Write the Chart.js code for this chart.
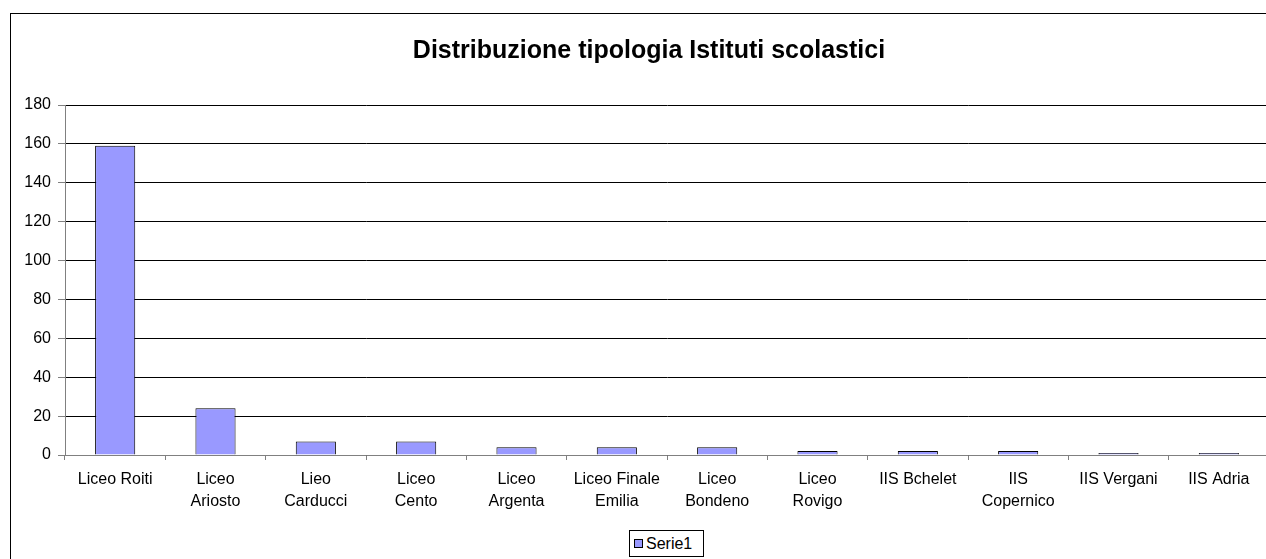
<!DOCTYPE html>
<html>
<head>
<meta charset="utf-8">
<script src="https://cdn.jsdelivr.net/npm/chart.js@4"></script>
<style>
  body { margin: 0; background: #fff; overflow: hidden; font-family: "Liberation Sans", Arial, sans-serif; }
  #wrap { position: absolute; left: 10px; top: 13px; width: 1276px; height: 580px; border: 1px solid #000; }
  #title { position: absolute; left: 349px; top: 34px; width: 600px; text-align: center; font-size: 25px; font-weight: bold;
           line-height: 30px; color: #000; }
  #legend { position: absolute; left: 629px; top: 530px; width: 73px; height: 25px; border: 1px solid #000; background: #fff;
            font-size: 16px; line-height: 25px; color: #000; }
  #legend span.sw { display: inline-block; width: 7px; height: 7px; background: #9999ff; border: 1px solid #000; margin: 0 3px 0 4px; vertical-align: 1px; }
</style>
</head>
<body>
<div id="wrap"><canvas id="chart"></canvas></div>
<div id="title">Distribuzione tipologia Istituti scolastici</div>
<div id="legend"><span class="sw"></span>Serie1</div>
<script>
// === Data ===
const categories = [
  ['Liceo Roiti'], ['Liceo', 'Ariosto'], ['Lieo', 'Carducci'], ['Liceo', 'Cento'],
  ['Liceo', 'Argenta'], ['Liceo Finale', 'Emilia'], ['Liceo', 'Bondeno'], ['Liceo', 'Rovigo'],
  ['IIS Bchelet'], ['IIS', 'Copernico'], ['IIS Vergani'], ['IIS Adria']
];
const serie1 = [159, 24, 7, 7, 4, 4, 4, 2, 2, 2, 1, 1];
const yTicks = [0, 20, 40, 60, 80, 100, 120, 140, 160, 180];

const labelFont = { family: '"Liberation Sans", Arial, sans-serif', size: 16, lineHeight: 1.35 };

// === Chart ===
new Chart(document.getElementById('chart'), {
  type: 'bar',
  data: {
    labels: categories,
    datasets: [{
      label: 'Serie1',
      data: serie1,
      backgroundColor: '#9999ff',
      borderColor: '#000',
      borderWidth: 1,
      barPercentage: 0.4,
      categoryPercentage: 1
    }]
  },
  options: {
    responsive: true,
    maintainAspectRatio: false,
    animation: false,
    layout: { padding: { left: 0, right: 18, top: 91, bottom: 69 } },
    plugins: {
      legend: { display: false },
      tooltip: { enabled: false },
      title: { display: false }
    },
    scales: {
      x: {
        grid: { offset: true, drawOnChartArea: false, tickLength: 5, color: '#808080' },
        border: { color: '#808080' },
        ticks: { color: '#000', font: labelFont, maxRotation: 0, autoSkip: false, padding: 9 },
        afterFit: (s) => { s.height = 70; }
      },
      y: {
        min: 0,
        max: 180,
        afterBuildTicks: (s) => { s.ticks = yTicks.map(v => ({ value: v })); },
        grid: { color: '#000', tickColor: '#808080', tickLength: 7 },
        border: { color: '#808080' },
        ticks: { color: '#000', font: labelFont, padding: 7 },
        afterFit: (s) => { s.width = 54; }
      }
    }
  }
});
</script>
</body>
</html>
